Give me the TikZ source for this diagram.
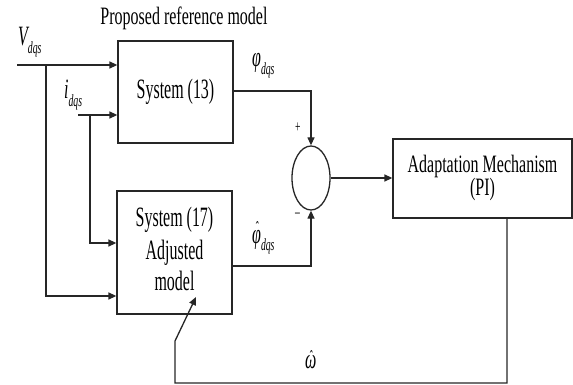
\documentclass[tikz,border=0pt]{standalone}
\usepackage{fontspec}
\setmainfont{Liberation Serif}[FakeStretch=0.57]
\newfontfamily\widerfont{Liberation Serif}[FakeStretch=0.64]
\usetikzlibrary{arrows.meta,shapes.geometric}

% subscript "dqs" and a hat placed over a symbol
\newcommand\dqs{\raisebox{-0.28em}{\fontsize{17}{17}\selectfont\itshape dqs}}
\newcommand\hatover[2]{\ooalign{#2\cr\hidewidth\raisebox{#1}{\fontsize{17}{17}\selectfont ˆ}\hidewidth\cr}}

\begin{document}
\begin{tikzpicture}[x=1pt,y=-1pt,
  font=\fontsize{28}{32}\selectfont,
  wire/.style={line width=1.3pt, draw=black!85},
  arr/.style={wire, -{Triangle[length=8pt,width=7pt]}},
  block/.style={draw=black!85, line width=1.3pt, rectangle, inner sep=2pt, align=center},
  lbl/.style={inner sep=0pt, anchor=base west}]
\useasboundingbox (0,0) rectangle (573,385);

% blocks
\node[block, minimum width=115pt, minimum height=102pt] (sys) at (175.5,92) {System (13)};
\node[block, minimum width=115pt, minimum height=123pt] (adj) at (174.5,252.5)
  {\raisebox{16pt}{\begin{tabular}{@{}c@{}}System (17)\\[1pt]Adjusted\\[-1pt]model\end{tabular}}};
\node[draw=black!85, line width=1.3pt, ellipse, minimum width=38pt, minimum height=64pt, inner sep=0pt] (sum) at (311,178) {};
\node[block, minimum width=179pt, minimum height=79pt, font=\widerfont\fontsize{25}{27}\selectfont] (pi) at (482.5,178.5)
  {\raisebox{-5pt}{\begin{tabular}{@{}c@{}}Adaptation Mechanism\\[-4pt](PI)\end{tabular}}};

% free ends and corners
\coordinate (vin) at (17,65);
\coordinate (vtap) at (46,65);
\coordinate (iin) at (78,115);
\coordinate (itap) at (90,115);
\coordinate (phiA) at (311,91);
\coordinate (phiB) at (311,266);
\coordinate (wA) at (507,383);
\coordinate (wB) at (175,383);
\coordinate (wC) at (175,341);
\coordinate (wtip) at (196,297);

% inputs
\draw[arr] (vin) -- (vin -| sys.west);
\draw[arr] (vtap) |- (adj.west |- 0,296);
\draw[arr] (iin) -- (iin -| sys.west);
\draw[arr] (itap) |- (adj.west |- 0,243);

% outputs into the comparator
\draw[arr] (sys.east |- phiA) -- (phiA) -- (sum.north);
\draw[arr] (adj.east |- phiB) -- (phiB) -- (sum.south);
\draw[arr] (sum.east) -- (sum.east -| pi.west);

% speed estimate fed back
\draw[arr] (pi.south -| wA) -- (wA) -- (wB) -- (wC) -- (wtip);

% labels
\node[font=\widerfont\fontsize{25}{27}\selectfont] (title) at (184,18) {Proposed reference model};
\node[lbl] (vlab) at (18,46) {\itshape V\dqs};
\node[lbl] (ilab) at (64,99) {\itshape i\dqs};
\node[lbl] (philab) at (252,67) {\itshape φ\dqs};
\node[lbl] (phihlab) at (252,243) {\itshape \hatover{0.34em}{φ}\dqs};
\node[lbl] (plus) at (295,133) {\fontsize{17}{17}\selectfont +};
\node[lbl] (minus) at (295,217) {\fontsize{17}{17}\selectfont –};
\node[lbl] (wlab) at (305,368) {\itshape \hatover{0.2em}{ω}};
\end{tikzpicture}
\end{document}
